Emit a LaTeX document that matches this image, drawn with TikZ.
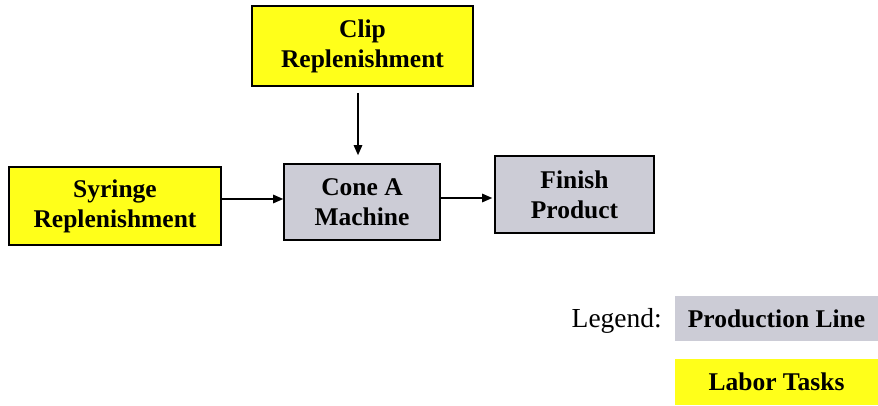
\documentclass[tikz,border=0pt]{standalone}
\usepackage{fontspec}
\setmainfont{Liberation Serif}
\usetikzlibrary{arrows.meta}
\definecolor{labor}{HTML}{FFFF1A}
\definecolor{prodline}{HTML}{CCCCD6}
\tikzset{
  txt/.style={font=\fontsize{25.5}{30}\selectfont\bfseries},
  box/.style={txt, draw=black, line width=1.6pt, align=center, inner sep=0pt},
  laborbox/.style={box, fill=labor},
  prodbox/.style={box, fill=prodline},
  keybox/.style={txt, inner sep=0pt, minimum width=203pt, align=center},
  flow/.style={line width=1.3pt, -{Triangle[length=10pt,width=8.5pt]}}
}
\begin{document}
\begin{tikzpicture}[x=1pt,y=1pt]
  \useasboundingbox (0,0) rectangle (878,406);
  % flow boxes
  \node[laborbox, minimum width=221pt, minimum height=80pt] (clip) at (362.5,360) {Clip\\Replenishment};
  \node[laborbox, minimum width=212pt, minimum height=78pt] (syr) at (115,200) {Syringe\\Replenishment};
  \node[prodbox, minimum width=156pt, minimum height=76pt] (cone) at (362,204) {Cone A\\Machine};
  \node[prodbox, minimum width=159pt, minimum height=77pt] (fin) at (574.5,211.5) {Finish\\Product};
  % connectors
  \draw[flow, shorten <=6pt, shorten >=8pt] ([xshift=-4.5pt]clip.south) -- ([xshift=-4pt]cone.north);
  \draw[flow] ([yshift=7pt]syr.east) -- ([yshift=3pt]cone.west);
  \draw[flow, shorten >=2pt] ([yshift=4pt]cone.east) -- ([yshift=-3.5pt]fin.west);
  % legend
  \node[keybox, fill=prodline, minimum height=45pt] (kprod) at (776.5,87.5) {Production Line};
  \node[keybox, fill=labor, minimum height=46pt] (klab) at (776.5,24) {Labor Tasks};
  \node[font=\fontsize{27.5}{30}\selectfont, inner sep=0pt, anchor=base east] (klegend) at (662,78) {Legend:};
\end{tikzpicture}
\end{document}
